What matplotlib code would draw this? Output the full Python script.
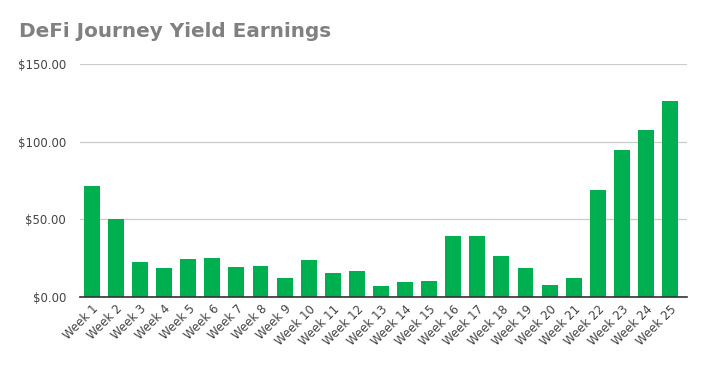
from matplotlib import pyplot as plt
from matplotlib.ticker import FuncFormatter
import numpy as np

weeks = ["Week %d" % i for i in range(1, 26)]
earnings = [71.5, 50.0, 22.5, 18.7, 24.5, 25.1, 19.3, 20.0, 12.2, 23.8,
            15.5, 16.7, 7.1, 9.7, 10.3, 39.3, 39.3, 26.4, 18.7, 7.7,
            12.2, 68.9, 94.7, 107.5, 126.2]

ind = np.arange(len(weeks))

fig = plt.figure(figsize=(7.06, 3.67), dpi=100)
ax = fig.add_axes([0.113, 0.191, 0.86, 0.635])

ax.bar(ind, earnings, 0.66, color='#00b050', zorder=3)

ax.set_ylim(0, 150)
ax.set_xlim(-0.5, 24.7)
ax.set_yticks([0, 50, 100, 150])
ax.yaxis.set_major_formatter(FuncFormatter(lambda v, p: "${:,.2f}".format(v)))
ax.set_xticks(ind)
ax.set_xticklabels(weeks, rotation=45, ha='right', rotation_mode='anchor')

ax.grid(axis='y', color='#cccccc', linewidth=0.9, zorder=0)
for s in ['top', 'right', 'left']:
    ax.spines[s].set_visible(False)
ax.spines['bottom'].set_color('#333333')
ax.spines['bottom'].set_linewidth(1.2)
ax.spines['bottom'].set_zorder(4)
ax.tick_params(length=0, labelsize=8.5, colors='#444444')
ax.tick_params(axis='y', pad=10)
ax.tick_params(axis='x', pad=4)

fig.text(0.027, 0.915, "DeFi Journey Yield Earnings", fontsize=14.4,
         fontweight='bold', color='#808080', va='center')

plt.savefig('out.png', dpi=100)
